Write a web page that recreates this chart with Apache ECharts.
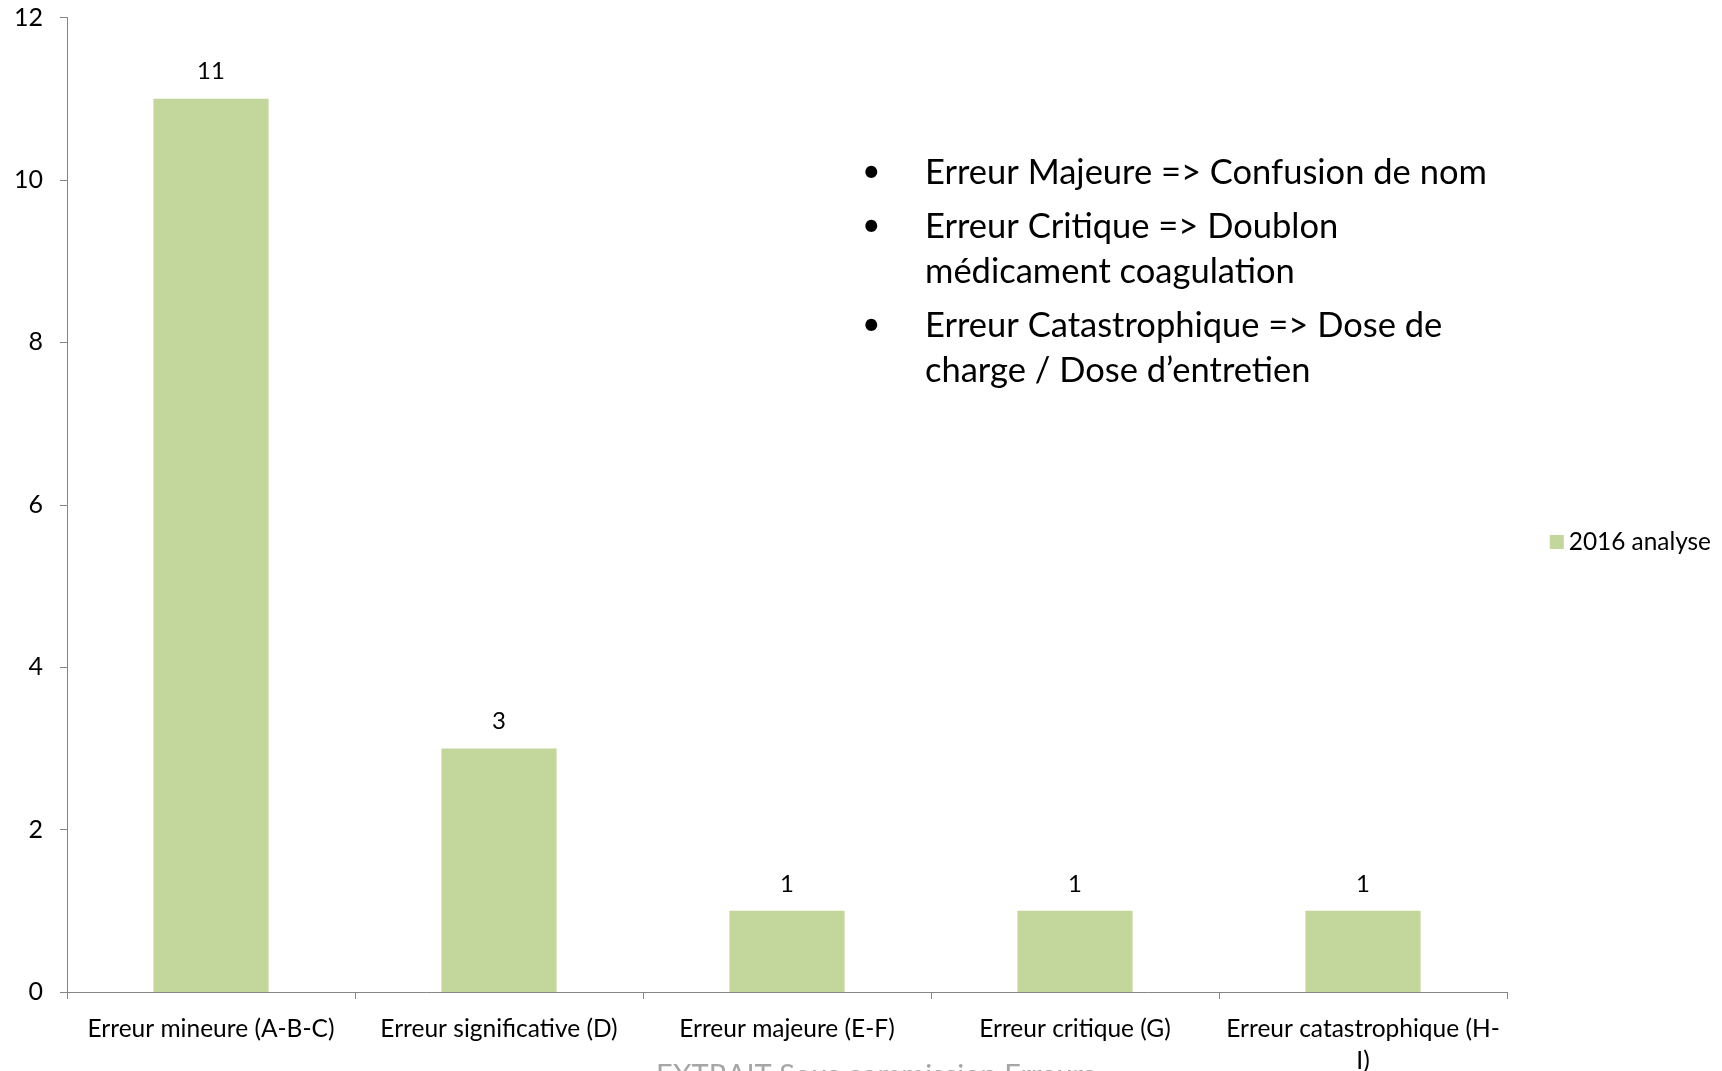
<!DOCTYPE html>
<html>
<head>
<meta charset="utf-8">
<script src="https://cdn.jsdelivr.net/npm/echarts@6/dist/echarts.min.js"></script>
<style>
html,body{margin:0;padding:0;background:#fff;}
#chart{width:1722px;height:1071px;}
</style>
</head>
<body>
<div id="chart"></div>
<script>
const categories = ['Erreur mineure (A-B-C)', 'Erreur significative (D)', 'Erreur majeure (E-F)', 'Erreur critique (G)', 'Erreur catastrophique (H-I)'];
const seriesName = '2016 analyse';
const values2016 = [11, 3, 1, 1, 1];
const yTicks = { min: 0, max: 12, interval: 2 };
const notes = [
  ['Erreur Majeure => Confusion de nom'],
  ['Erreur Critique => Doublon', 'médicament coagulation'],
  ['Erreur Catastrophique => Dose de', 'charge / Dose d\u2019entretien']
];
const footer = 'EXTRAIT Sous commission Erreurs';

const FONT = 'Lato';
const chart = echarts.init(document.getElementById('chart'));

const graphics = [];
const lineY = [[176], [230, 275], [329, 374]];
notes.forEach((lines, i) => {
  graphics.push({
    type: 'text', left: 862, top: lineY[i][0] - 20,
    style: { text: '\u2022', font: '32px ' + FONT, fill: '#000' }
  });
  lines.forEach((t, j) => {
    graphics.push({
      type: 'text', left: 925, top: lineY[i][j] - 21,
      style: { text: t, font: '34.5px ' + FONT, fill: '#000' }
    });
  });
});
graphics.push({
  type: 'text', left: 656, top: 1061,
  style: { text: footer, font: '29px ' + FONT, fill: '#a6a6a6' }
});

chart.setOption({
  animation: false,
  backgroundColor: '#fff',
  textStyle: { fontFamily: FONT },
  grid: { left: 67, right: 215, top: 17.5, bottom: 79, containLabel: false, outerBoundsMode: 'none' },
  legend: {
    data: [seriesName],
    right: 6, top: 525,
    orient: 'vertical',
    icon: 'rect', itemWidth: 14, itemHeight: 14, itemGap: 8,
    textStyle: { fontSize: 24.4, color: '#000', fontFamily: FONT }
  },
  xAxis: {
    type: 'category', data: categories,
    axisLine: { lineStyle: { color: '#868686', width: 1 } },
    axisTick: { show: true, length: 7, lineStyle: { color: '#868686' }, alignWithLabel: false },
    axisLabel: {
      fontSize: 24.5, color: '#000', margin: 21, interval: 0, lineHeight: 32,
      formatter: v => v.replace('(H-', '(H-\n')
    }
  },
  yAxis: {
    type: 'value', min: yTicks.min, max: yTicks.max, interval: yTicks.interval,
    splitLine: { show: false },
    axisLine: { show: true, lineStyle: { color: '#868686', width: 1 } },
    axisTick: { show: true, length: 7, lineStyle: { color: '#868686' } },
    axisLabel: { fontSize: 25, color: '#000', margin: 24 }
  },
  series: [{
    name: seriesName, type: 'bar', data: values2016,
    barCategoryGap: '60%',
    itemStyle: { color: '#c3d69b' },
    label: { show: true, position: 'top', distance: 15, fontSize: 24, color: '#000' }
  }],
  graphic: graphics
});
</script>
</body>
</html>
